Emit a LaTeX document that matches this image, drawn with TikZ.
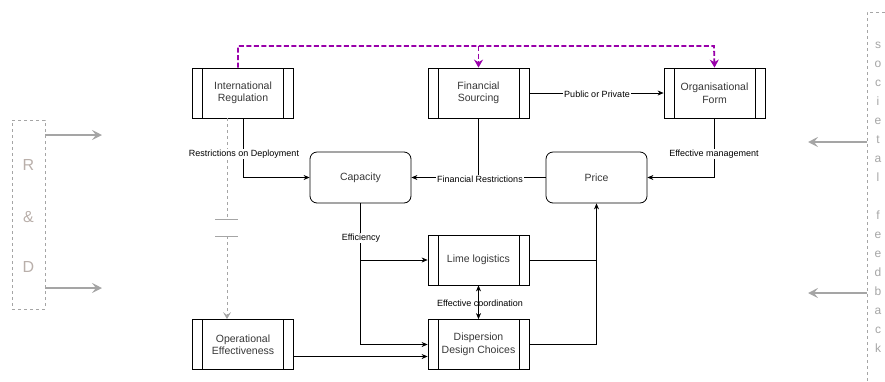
\documentclass[tikz,border=0pt]{standalone}
\usepackage{fontspec}
\setmainfont{Liberation Sans}
\usetikzlibrary{arrows.meta,calc}
\definecolor{pdash}{RGB}{153,0,170}
\definecolor{sidegray}{RGB}{165,165,165}
\definecolor{sidetext}{RGB}{185,175,170}
\definecolor{boxtext}{RGB}{55,55,55}
\begin{document}
\begin{tikzpicture}[x=1pt,y=-1pt,
  proc/.style={draw, line width=0.8pt, minimum width=101pt, minimum height=50pt, align=center,
    font=\fontsize{10.5}{12.5}\selectfont, text=boxtext, inner sep=0pt,
    path picture={
      \draw[line width=0.8pt] ([xshift=10pt]path picture bounding box.south west) -- ([xshift=10pt]path picture bounding box.north west);
      \draw[line width=0.8pt] ([xshift=-10pt]path picture bounding box.south east) -- ([xshift=-10pt]path picture bounding box.north east);
    }},
  rbox/.style={draw, line width=0.8pt, rounded corners=7pt, minimum width=101pt, minimum height=51pt,
    font=\fontsize{10.5}{12}\selectfont, text=boxtext},
  arr/.style={line width=0.6pt, -{Stealth[length=6pt,width=5pt]}},
  ln/.style={line width=0.6pt},
  lbl/.style={fill=white, inner sep=1pt, font=\fontsize{9}{10}\selectfont},
  pd/.style={draw=pdash, line width=1.8pt, dash pattern=on 5pt off 2.5pt},
  parr/.style={pd, -{Stealth[length=8pt,width=9pt]}},
  garr/.style={draw=sidegray, line width=1.6pt, -{Stealth[length=10pt,width=10pt,inset=4pt]}},
  gdash/.style={draw=sidegray, line width=0.8pt, dashed},
  sidel/.style={text=sidetext, font=\fontsize{16}{18}\selectfont},
  socl/.style={text=sidegray, font=\fontsize{12}{13}\selectfont, inner sep=0pt}
]
\useasboundingbox (0,0) rectangle (885,381);

% main nodes
\node[proc] (IR) at (243,93) {International\\Regulation};
\node[proc] (FS) at (478.5,93) {Financial\\Sourcing};
\node[proc] (OF) at (714.5,93) {Organisational\\Form};
\node[rbox] (Cap) at (360.5,177.5) {Capacity};
\node[rbox] (Price) at (596.5,177.5) {Price};
\node[proc] (LL) at (478.5,260) {Lime logistics};
\node[proc] (DDC) at (478.5,344.5) {Dispersion\\Design Choices};
\node[proc] (OE) at (243,344.5) {Operational\\Effectiveness};

% purple dashed feedback
\coordinate (ptop) at (714,46);
\draw[parr] ([xshift=-5pt]IR.north) |- (ptop) -- (OF.north);
\draw[parr] (FS.north |- ptop) -- (FS.north);

% gray dashed with break
\coordinate (b1) at (227,219);
\coordinate (b2) at (227,236);
\draw[gdash] (IR.south -| b1) -- (b1);
\draw[draw=sidegray, line width=0.8pt] ($(b1)+(-12,0)$) -- ($(b1)+(11,0)$);
\draw[draw=sidegray, line width=0.8pt] ($(b2)+(-12,0)$) -- ($(b2)+(11,0)$);
\draw[gdash, -{Stealth[length=7pt,width=8pt,inset=3pt]}] (b2) -- (OE.north -| b2);

% connectors
\draw[arr] (IR.south) |- (Cap.west);
\node[lbl] at (244,154) {Restrictions on Deployment};

\draw[arr] (Price.west) -- (Cap.east);
\draw[ln] (FS.south) -- (FS.south |- Cap.east);
\node[lbl] at (480,179) {Financial Restrictions};

\draw[arr] (FS.east) -- (OF.west);
\node[lbl] at (597,94) {Public or Private};

\draw[arr] (OF.south) |- (Price.east);
\node[lbl] at (714,154) {Effective management};

\draw[arr] (Cap.south) |- (LL.west);
\draw[arr] (Cap.south) |- (DDC.west);
\node[lbl] at (361,238) {Efficiency};

\draw[arr] ($(OE.east)+(0,12)$) -- ($(DDC.west)+(0,12)$);

\draw[line width=0.6pt, {Stealth[length=6pt,width=5pt]}-{Stealth[length=6pt,width=5pt]}] (LL.south) -- (DDC.north);
\node[lbl, fill=none] at (480,303) {Effective coordination};

\draw[ln] (LL.east) -- (LL.east -| Price.south);
\draw[arr] (DDC.east) -| (Price.south);

% R&D side
\node[gdash, draw, minimum width=33pt, minimum height=189pt, inner sep=0pt] (RD) at (28.5,214.5) {};
\node[sidel] (lR) at (28.5,165) {R};
\node[sidel] (lA) at (28.5,217) {\&};
\node[sidel] (lD) at (28.5,267) {D};
\coordinate (rd1) at (102,135);
\coordinate (rd2) at (102,288);
\draw[garr] (RD.east |- rd1) -- (rd1);
\draw[garr] (RD.east |- rd2) -- (rd2);

% societal feedback side
\draw[gdash] (885,12) -- (867,12) -- (867,381);
\coordinate (sf) at (867,142);
\coordinate (sf2) at (867,293);
\draw[garr] (sf) -- (808,142);
\draw[garr] (sf2) -- (808,293);
\foreach \c [count=\i from 0] in {s,o,c,i,e,t,a,l,{},f,e,e,d,b,a,c,k}{
  \node[socl] at (878,{46+19*\i}) {\strut\c};
}
\end{tikzpicture}
\end{document}
